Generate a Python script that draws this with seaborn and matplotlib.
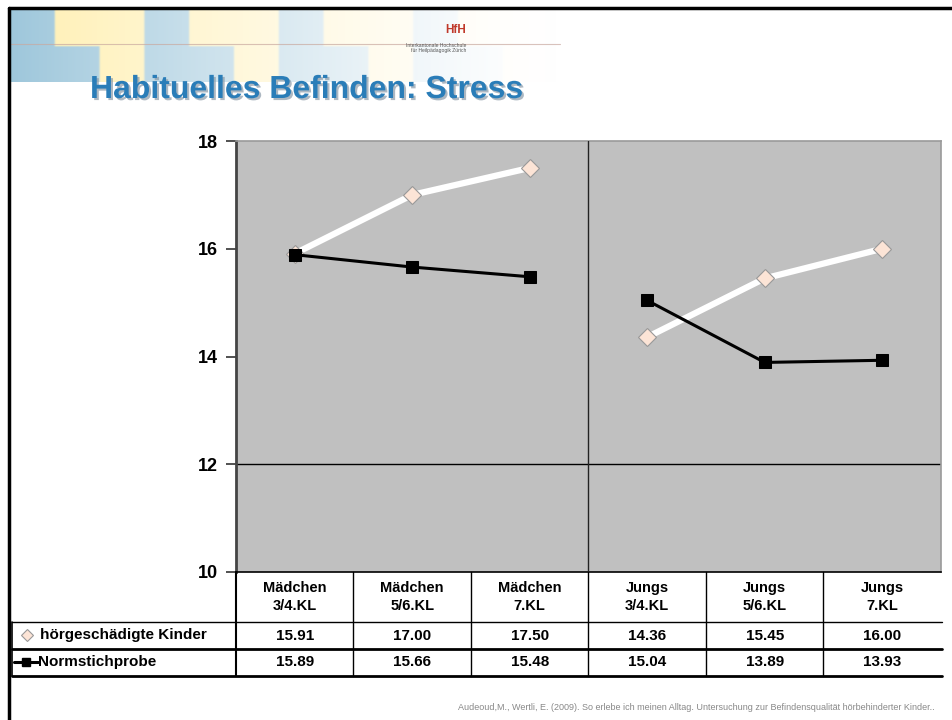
import numpy as np
import pandas as pd
import seaborn as sns
import matplotlib.pyplot as plt
import matplotlib.transforms as mtransforms
import matplotlib.patheffects as pe
from matplotlib.lines import Line2D

categories = ["Mädchen\n3/4.KL", "Mädchen\n5/6.KL", "Mädchen\n7.KL",
              "Jungs\n3/4.KL", "Jungs\n5/6.KL", "Jungs\n7.KL"]
groups = ["Mädchen", "Mädchen", "Mädchen", "Jungs", "Jungs", "Jungs"]
hoergeschaedigt = [15.91, 17.00, 17.50, 14.36, 15.45, 16.00]
normstichprobe = [15.89, 15.66, 15.48, 15.04, 13.89, 13.93]
series_names = ["hörgeschädigte Kinder", "Normstichprobe"]
yticks = [10, 12, 14, 16, 18]

W, H = 953, 720

sns.set_theme(style="white")
plt.rcParams['font.family'] = ['Liberation Sans', 'DejaVu Sans']
plt.rcParams['text.color'] = 'black'
plt.rcParams['ytick.color'] = 'black'

fig = plt.figure(figsize=(W / 100, H / 100), dpi=100)


def fx(px):
    return px / W


def fy(py):
    return 1 - py / H


# header banner (faded logo look)
bg = fig.add_axes([fx(10), fy(82), fx(640), 74 / H], zorder=0)
nx, ny = 400, 60
fade = np.clip(1 - np.linspace(0, 1, nx) / 0.85, 0, 1)[None, :] ** 1.4
xs = np.arange(nx)
blocks = (((xs // 28) % 3) == 0) | (((xs // 28) % 3) == 1) & (np.arange(ny)[:, None] > 30)
blue = np.array([0.62, 0.78, 0.86])
yellow = np.array([1.0, 0.94, 0.7])
rgb = np.ones((ny, nx, 3))
for c in range(3):
    col = np.where(blocks, blue[c], yellow[c])
    col = np.broadcast_to(col, (ny, nx))
    rgb[:, :, c] = 1 - (1 - col) * fade
bg.imshow(rgb, aspect="auto", interpolation="bicubic")
bg.axis("off")
fig.add_artist(Line2D([fx(10), fx(560)], [fy(44), fy(44)], color="#c9a9a0", lw=0.8, alpha=0.7))

# slide frame
fig.add_artist(Line2D([fx(9), 1], [fy(8), fy(8)], color="black", lw=2.5))
fig.add_artist(Line2D([fx(9), fx(9)], [fy(8), 0], color="black", lw=2.5))

fig.text(fx(466), fy(30), "HfH", color="#c0392b", fontsize=8.5, fontweight="bold", ha="right", va="center")
fig.text(fx(466), fy(48), "Interkantonale Hochschule\nfür Heilpädagogik Zürich", color="#555555",
         fontsize=3.6, ha="right", va="center", linespacing=1.2)

fig.text(fx(90), fy(90), "Habituelles Befinden: Stress", color="#2a7db8", fontsize=23,
         fontweight="bold", va="center",
         path_effects=[pe.withSimplePatchShadow(offset=(1.5, -1.5), shadow_rgbFace="#8a9aa8", alpha=0.7)])

# chart
ax = fig.add_axes([fx(236), fy(572), fx(941) - fx(236), (572 - 141) / H])
ax.set_facecolor("#c0c0c0")

df = pd.DataFrame({
    "pos": list(range(6)) * 2,
    "value": hoergeschaedigt + normstichprobe,
    "series": [series_names[0]] * 6 + [series_names[1]] * 6,
    "group": groups * 2,
})

sub = df[df["series"] == series_names[0]]
sns.lineplot(data=sub, x="pos", y="value", units="group", estimator=None, ax=ax,
             color="white", lw=4.5, marker="D", markersize=9,
             markerfacecolor="#fce4d6", markeredgecolor="#999999", markeredgewidth=0.8, zorder=3)
sub = df[df["series"] == series_names[1]]
sns.lineplot(data=sub, x="pos", y="value", units="group", estimator=None, ax=ax,
             color="black", lw=2.2, marker="s", markersize=8,
             markerfacecolor="black", markeredgecolor="black", zorder=4)

ax.set_xlim(-0.5, 5.5)
ax.set_ylim(10, 18)
ax.set_xticks([])
ax.set_yticks(yticks)
ax.set_yticklabels([str(t) for t in yticks], fontsize=13, fontweight="bold")
ax.tick_params(axis="y", direction="out", length=7, width=1.2, color="#333333", pad=6, left=True)
ax.set_xlabel("")
ax.set_ylabel("")
ax.axhline(12, color="black", lw=1)
for s in ["top", "right"]:
    ax.spines[s].set_color("#9a9a9a")
    ax.spines[s].set_linewidth(1.2)
ax.spines["bottom"].set_color("black")
ax.spines["bottom"].set_linewidth(1.2)
ax.spines["left"].set_color("#444444")
ax.spines["left"].set_linewidth(2)

# data table below the axes
tr = mtransforms.blended_transform_factory(ax.transData, fig.transFigure)
row_hdr, row1, row2, row_end = 572, 622, 649, 676
ax.axvline(2.5, color="#222222", lw=1, zorder=5)
for i in range(1, 6):
    fig.add_artist(Line2D([i - 0.5, i - 0.5], [fy(row_hdr), fy(row_end)], transform=tr, color="black", lw=1))
fig.add_artist(Line2D([fx(236), fx(236)], [fy(row_hdr), fy(row_end)], color="black", lw=1.5))
fig.add_artist(Line2D([fx(12), fx(12)], [fy(row1), fy(row_end)], color="black", lw=1.2))
fig.add_artist(Line2D([fx(12), fx(942)], [fy(row1), fy(row1)], color="black", lw=1))
fig.add_artist(Line2D([fx(12), fx(942)], [fy(row2), fy(row2)], color="black", lw=2))
fig.add_artist(Line2D([fx(12), fx(942)], [fy(row_end), fy(row_end)], color="black", lw=2))

for i, cat in enumerate(categories):
    fig.text(i, fy((row_hdr + row1) / 2), cat, transform=tr, ha="center", va="center",
             fontsize=10.5, fontweight="bold", linespacing=1.3)
    fig.text(i, fy((row1 + row2) / 2), f"{hoergeschaedigt[i]:.2f}", transform=tr, ha="center",
             va="center", fontsize=11, fontweight="bold")
    fig.text(i, fy((row2 + row_end) / 2), f"{normstichprobe[i]:.2f}", transform=tr, ha="center",
             va="center", fontsize=11, fontweight="bold")

# legend keys inside the table
fig.add_artist(Line2D([fx(27)], [fy(635)], marker="D", markersize=6, markerfacecolor="#fce4d6",
                      markeredgecolor="#999999", markeredgewidth=0.8, linestyle="none"))
fig.text(fx(40), fy(635), series_names[0], fontsize=11, fontweight="bold", va="center")
fig.add_artist(Line2D([fx(14), fx(38)], [fy(662), fy(662)], color="black", lw=2.2))
fig.add_artist(Line2D([fx(26)], [fy(662)], marker="s", markersize=6, color="black", linestyle="none"))
fig.text(fx(38), fy(662), series_names[1], fontsize=11, fontweight="bold", va="center")

fig.text(fx(935), fy(707), "Audeoud,M., Wertli, E. (2009). So erlebe ich meinen Alltag. "
         "Untersuchung zur Befindensqualität hörbehinderter Kinder..",
         fontsize=6.5, color="#888888", ha="right", va="center")

fig.savefig("out.png", dpi=100)
